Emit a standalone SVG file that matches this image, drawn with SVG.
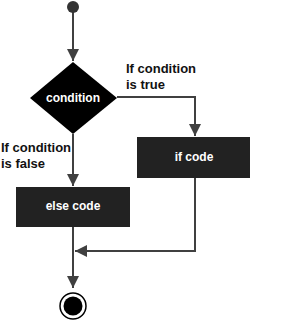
<svg xmlns="http://www.w3.org/2000/svg" width="286" height="326" viewBox="0 0 286 326">
<defs>
<style>
.edge{fill:none;stroke:#404040;stroke-width:2}
.box{fill:#222222}
.t{font-family:"Liberation Sans",Arial,sans-serif;font-weight:bold;font-size:13px}
.w{fill:#ffffff;text-anchor:middle;font-size:12px}
.k{fill:#111111}
</style>
<marker id="arr" viewBox="0 0 12 12" refX="12" refY="6" markerWidth="12" markerHeight="12" markerUnits="userSpaceOnUse" orient="auto">
<path d="M0,0 L12,6 L0,12 z" fill="#404040"/>
</marker>
</defs>
<rect width="286" height="326" fill="#ffffff"/>
<g id="connectors">
<line class="edge" x1="73" y1="12" x2="73" y2="61" marker-end="url(#arr)"/>
<polyline class="edge" points="117,97 195,97 195,136" marker-end="url(#arr)"/>
<line class="edge" x1="73" y1="134" x2="73" y2="186" marker-end="url(#arr)"/>
<line class="edge" x1="73" y1="227" x2="73" y2="288" marker-end="url(#arr)"/>
<polyline class="edge" points="195,178 195,251 75,251" marker-end="url(#arr)"/>
</g>
<g id="start"><circle cx="73" cy="7" r="6" fill="#333333"/></g>
<g id="condition">
<polygon points="73,62 117,98 73,134 30,98" fill="#000000"/>
<text class="t w" x="73" y="102">condition</text>
</g>
<g id="label-true">
<text class="t k" x="126" y="73">If condition</text>
<text class="t k" x="126" y="89">is true</text>
</g>
<g id="label-false">
<text class="t k" x="1" y="152">If condition</text>
<text class="t k" x="1" y="168">is false</text>
</g>
<g id="if-code">
<rect class="box" x="137" y="137" width="113" height="41"/>
<text class="t w" x="194" y="161">if code</text>
</g>
<g id="else-code">
<rect class="box" x="16" y="187" width="114" height="40"/>
<text class="t w" x="73" y="210">else code</text>
</g>
<g id="end">
<circle cx="73" cy="306" r="13" fill="#ffffff" stroke="#000000" stroke-width="1.5"/>
<circle cx="73" cy="306" r="9.5" fill="#000000"/>
</g>
</svg>
